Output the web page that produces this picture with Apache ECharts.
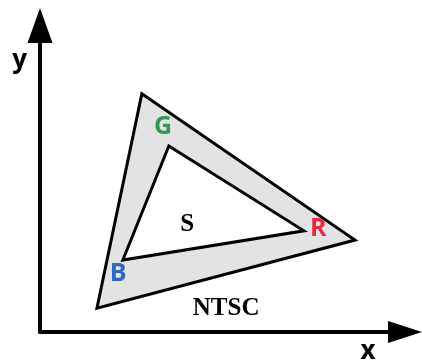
<!DOCTYPE html>
<html>
<head>
<meta charset="utf-8">
<script src="https://cdn.jsdelivr.net/npm/echarts@6/dist/echarts.min.js"></script>
<style>
  html, body { margin: 0; padding: 0; background: #fff; }
  #main { width: 422px; height: 360px; }
</style>
</head>
<body>
<div id="main"></div>
<script>
  // triangle corners, chart units (x 0-100, y 0-100)
  var ntscTri = [[27.9, 77.7], [86.3, 30.0], [15.6, 7.8]];   // outer: NTSC gamut
  var sTri    = [[35.3, 60.7], [72.3, 33.0], [22.7, 23.5]];   // inner: S gamut

  // text marks
  var labelNames  = ['G', 'R', 'B', 'S', 'NTSC'];
  var labelPos    = [[33.7, 66.9], [76.2, 33.6], [21.4, 18.9], [40.3, 34.9], [51.0, 7.8]];
  var labelColors = ['#2e9a52', '#e8283e', '#2f66c0', '#000', '#000'];

  var myChart = echarts.init(document.getElementById('main'));

  function triRenderer(tri, fill) {
    return function (params, api) {
      var pts = tri.map(function (p) { return api.coord(p); });
      return {
        type: 'polygon',
        shape: { points: pts },
        style: { fill: fill, stroke: '#000', lineWidth: 3, lineJoin: 'miter' }
      };
    };
  }

  var labelData = labelNames.map(function (n, i) {
    var serif = (n == 'S' || n == 'NTSC');
    return {
      name: n,
      value: labelPos[i],
      label: {
        color: labelColors[i],
        opacity: 1,
        fontFamily: serif ? 'Liberation Serif' : 'Open Sans',
        fontSize: 25
      }
    };
  });

  var option = {
    backgroundColor: '#fff',
    animation: false,
    grid: { left: 40, right: 17, top: 25.5, bottom: 28, outerBoundsMode: 'none', containLabel: false },
    xAxis: {
      type: 'value', min: 0, max: 100,
      name: 'x', nameLocation: 'end', nameGap: -37,
      nameTextStyle: { color: '#000', fontFamily: 'Open Sans', fontWeight: 'bold', fontSize: 26,
                       align: 'center', verticalAlign: 'top', padding: [7, 0, 0, 0] },
      axisLine: { show: true, symbol: ['none', 'triangle'], symbolSize: [22, 34],
                  lineStyle: { color: '#000', width: 4 } },
      axisTick: { show: false }, axisLabel: { show: false }, splitLine: { show: false }
    },
    yAxis: {
      type: 'value', min: 0, max: 100,
      name: 'y', nameLocation: 'end', nameGap: -35,
      nameTextStyle: { color: '#000', fontFamily: 'Open Sans', fontWeight: 'bold', fontSize: 26,
                       align: 'right', verticalAlign: 'middle', padding: [0, 13, 0, 0] },
      axisLine: { show: true, symbol: ['none', 'triangle'], symbolSize: [25, 35],
                  lineStyle: { color: '#000', width: 4 } },
      axisTick: { show: false }, axisLabel: { show: false }, splitLine: { show: false }
    },
    series: [
      { name: 'NTSC', type: 'custom', renderItem: triRenderer(ntscTri, '#e3e3e3'), data: [0], z: 1 },
      { name: 'S', type: 'custom', renderItem: triRenderer(sTri, '#fff'), data: [0], z: 2 },
      {
        type: 'scatter', symbolSize: 0, z: 3,
        itemStyle: { opacity: 1 },
        label: { show: true, position: 'inside', fontWeight: 'bold', formatter: '{b}' },
        data: labelData
      }
    ]
  };

  myChart.setOption(option);
</script>
</body>
</html>
